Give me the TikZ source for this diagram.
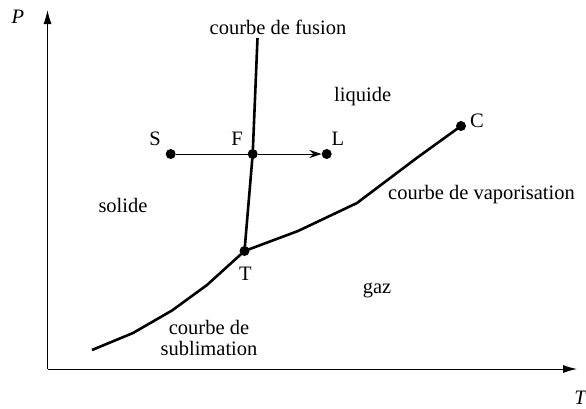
\documentclass[tikz,border=0pt]{standalone}
\usepackage{fontspec}
\setmainfont{Liberation Serif}
\usetikzlibrary{arrows.meta}
\begin{document}
\begin{tikzpicture}[x=1pt,y=-1pt,
  axis/.style={line width=1pt,-{Latex[length=14pt,width=8pt]}},
  curve/.style={line width=2.6pt,line join=round},
  dot/.style={circle,fill=black,inner sep=0pt,minimum size=10pt},
  lbl/.style={inner sep=0pt,font=\fontsize{20.5}{23}\selectfont},
  every node/.style={text=black}]
\useasboundingbox (0,0) rectangle (586,408);
% axes
\coordinate (O) at (47.5,369);
\coordinate (Ptop) at (47.5,10);
\coordinate (Tend) at (577,369);
\draw[axis] (O) -- (Ptop);
\draw[axis] (O) -- (Tend);
\node[lbl] (Plbl) at (18,17) {\itshape P};
\node[lbl] (Tlbl) at (580,398) {\itshape T};
% points
\node[dot] (Tp) at (244.5,251) {};
\node[dot] (F) at (252.7,154) {};
\node[dot] (S) at (170.7,154) {};
\node[dot] (L) at (326.7,154) {};
\node[dot] (C) at (461,126) {};
\coordinate (fusTop) at (257.5,38);
\coordinate (subStart) at (92,350);
% curves
\draw[curve] (subStart) -- (133,333) -- (172,310.5) -- (207,285) -- (Tp.center);
\draw[curve] (Tp.center) -- (298,231) -- (357,203) -- (416.7,158) -- (C.center);
\draw[curve] (Tp.center) -- (F.center) -- (fusTop);
% S F L line
\draw[line width=1pt] (S) -- (F);
\draw[line width=1pt,-{Stealth[length=12pt,width=8pt]}] (F) -- (L);
% labels
\node[lbl] (Slbl) at (155,139) {S};
\node[lbl] (Flbl) at (237,139) {F};
\node[lbl] (Llbl) at (338,139) {L};
\node[lbl] (Clbl) at (477,121) {C};
\node[lbl] (Tlab) at (245.5,274) {T};
\node[lbl] (fusion) at (278,27) {courbe de fusion};
\node[lbl] (liquide) at (362.7,97) {liquide};
\node[lbl] (solide) at (123,205) {solide};
\node[lbl] (gaz) at (377,290) {gaz};
\node[lbl] (vapo) at (481.5,195) {courbe de vaporisation};
\node[lbl,align=center] (subl) at (209,337.5) {courbe de\\[-2pt]sublimation};
\end{tikzpicture}
\end{document}
